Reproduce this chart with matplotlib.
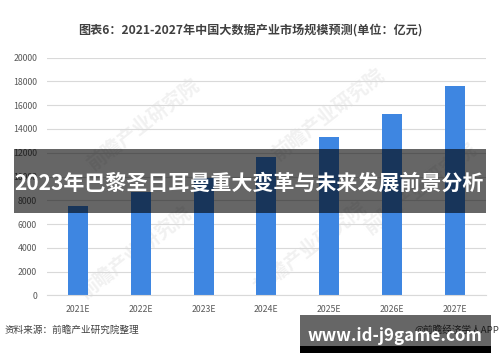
import matplotlib.pyplot as plt
from matplotlib.patches import Rectangle

plt.rcParams["font.family"] = ["Noto Sans CJK SC", "DejaVu Sans"]

years = ["2021E", "2022E", "2023E", "2024E", "2025E", "2026E", "2027E"]
market_size = [7550, 8700, 9900, 11600, 13350, 15300, 17600]
y_ticks = [0, 2000, 4000, 6000, 8000, 10000, 12000, 14000, 16000, 18000, 20000]

title = "图表6：2021-2027年中国大数据产业市场规模预测(单位：亿元)"
banner = "2023年巴黎圣日耳曼重大变革与未来发展前景分析"
source = "资料来源：前瞻产业研究院整理"
credit = "@前瞻经济学人APP"
site = "www.id-j9game.com"

W, H = 500, 362
fig = plt.figure(figsize=(W / 100, H / 100), dpi=100)
ax = fig.add_axes([46.7 / W, 1 - 295.3 / H, (486 - 46.7) / W, (295.3 - 57.7) / H])

# faint watermarks
for wx, wy in [(0.22, 0.72), (0.64, 0.76), (0.20, 0.18), (0.60, 0.20), (0.85, 0.45)]:
    ax.text(wx, wy, "前瞻产业研究院", transform=ax.transAxes, rotation=38,
            fontsize=14, fontweight="bold", color="#f1f1f1", ha="center",
            va="center", zorder=0)

x = range(len(years))
ax.bar(x, market_size, width=0.32, color="#3e86e1", zorder=2)

ax.set_xlim(-0.5, len(years) - 0.5)
ax.set_ylim(0, 20000)
ax.set_yticks(y_ticks)
ax.set_yticklabels([str(v) for v in y_ticks])
ax.set_xticks(list(x))
ax.set_xticklabels(years)
ax.grid(axis="y", color="#d9d9d9", linewidth=0.8, zorder=1)
ax.set_axisbelow(True)
for s in ["top", "right", "left"]:
    ax.spines[s].set_visible(False)
ax.spines["bottom"].set_color("#d9d9d9")
ax.tick_params(length=0, labelsize=6.3, colors="#595959")
ax.tick_params(axis="x", pad=7)
ax.tick_params(axis="y", pad=7)

fig.text(250 / W, 1 - 30 / H, title, ha="center", va="center",
         fontsize=8.7, fontweight="bold", color="#404040")
fig.text(5 / W, 1 - 330 / H, source, ha="left", va="center",
         fontsize=6.9, color="#404040")
fig.text(499 / W, 1 - 330 / H, credit, ha="right", va="center",
         fontsize=6.9, color="#404040")

# dark banner across the chart
fig.patches.append(Rectangle((14 / W, 1 - 213 / H), (486 - 14) / W, (213 - 149) / H,
                             transform=fig.transFigure, facecolor="black",
                             alpha=0.6, zorder=5))
fig.text(249 / W, 1 - 183 / H, banner, ha="center", va="center",
         fontsize=15.1, fontweight="bold", color="white", zorder=6)

# site box at the bottom right
fig.patches.append(Rectangle((300 / W, 1 - 346 / H), (491 - 300) / W, (346 - 315) / H,
                             transform=fig.transFigure, facecolor="black",
                             alpha=0.6, zorder=5))
fig.patches.append(Rectangle((300 / W, 1 - 353 / H), (491 - 300) / W, 7 / H,
                             transform=fig.transFigure, facecolor="black", zorder=5))
fig.text(395 / W, 1 - 336 / H, site, ha="center", va="center",
         fontsize=12.2, fontweight="bold", color="white", zorder=6)

fig.savefig("out.png", dpi=100)
